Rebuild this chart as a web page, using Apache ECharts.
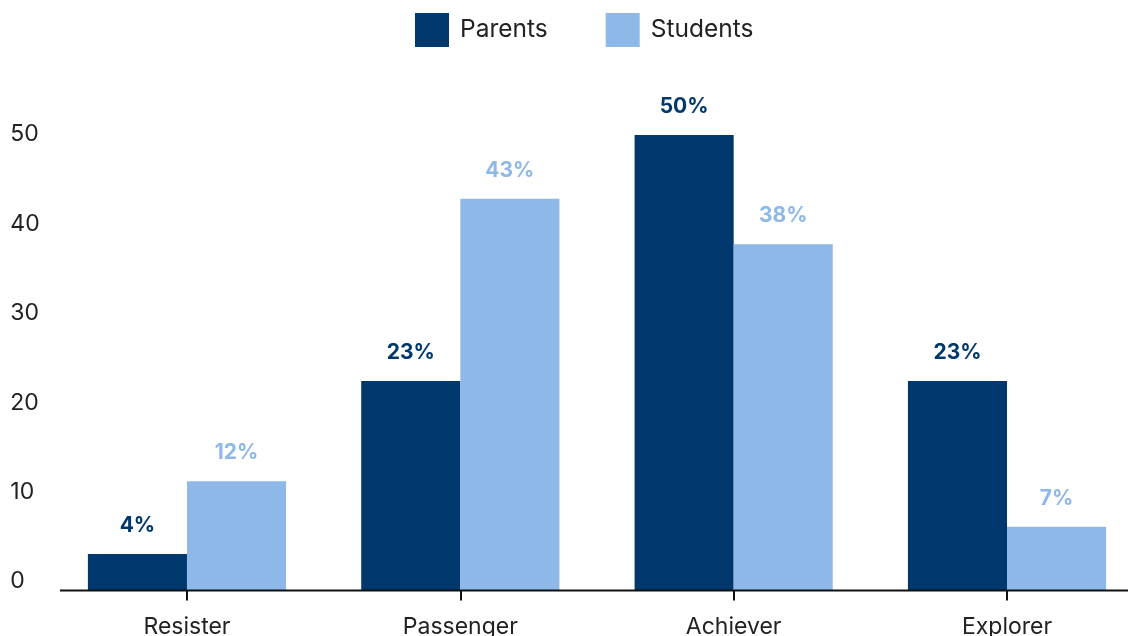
<!DOCTYPE html>
<html>
<head>
<meta charset="utf-8">
<style>
  html, body { margin: 0; padding: 0; background: #ffffff; }
  #chart { width: 1128px; height: 636px; }
</style>
<script src="https://cdn.jsdelivr.net/npm/echarts@6/dist/echarts.min.js"></script>
</head>
<body>
<div id="chart"></div>
<script>
// Share of respondents per profile, in percent
const categories = ['Resister', 'Passenger', 'Achiever', 'Explorer'];
const parents = [4, 23, 50, 23];
const students = [12, 43, 38, 7];
const yTicks = [0, 10, 20, 30, 40, 50];

const DARK = '#00386e';
const LIGHT = '#8db8e8';
const FONT = 'Inter, "Noto Sans", sans-serif';

const chart = echarts.init(document.getElementById('chart'), null, { renderer: 'canvas' });

function valueLabel(color) {
  return {
    show: true,
    position: 'top',
    distance: 18,
    color: color,
    fontFamily: FONT,
    fontWeight: 'bold',
    fontSize: 21,
    formatter: p => p.value + '%'
  };
}

const yMin = yTicks[0];
const yMax = yTicks[yTicks.length - 1];

chart.setOption({
  animation: false,
  textStyle: { fontFamily: FONT },
  legend: {
    top: 8,
    left: 410,
    itemWidth: 34,
    itemHeight: 34,
    itemGap: 58,
    icon: 'rect',
    textStyle: { fontFamily: FONT, fontSize: 24.5, color: '#222222', padding: [2, 0, 0, 6] },
    data: ['Parents', 'Students']
  },
  grid: [
    // plotting area for the bars
    {
      left: 50.3,
      right: -15.7,
      top: 135,
      bottom: 45.5,
      outerBoundsMode: 'none',
      containLabel: false
    },
    // tick-label scale, set slightly tighter than the bar scale
    {
      left: 50.3,
      right: -15.7,
      top: 134.5,
      bottom: 54.5,
      outerBoundsMode: 'none',
      containLabel: false
    }
  ],
  xAxis: [
    {
      type: 'category',
      gridIndex: 0,
      data: categories,
      axisLine: { show: false },
      axisTick: {
        show: true,
        alignWithLabel: true,
        length: 10,
        lineStyle: { color: '#111111', width: 2 }
      },
      axisLabel: {
        margin: 25,
        color: '#222222',
        fontFamily: FONT,
        fontSize: 23
      }
    },
    {
      type: 'category',
      gridIndex: 1,
      data: categories,
      show: false
    }
  ],
  yAxis: [
    {
      type: 'value',
      gridIndex: 0,
      min: yMin,
      max: yMax,
      interval: 10,
      splitLine: { show: false },
      axisLine: { show: false },
      axisTick: { show: false },
      axisLabel: { show: false }
    },
    {
      type: 'value',
      gridIndex: 1,
      min: yMin,
      max: yMax,
      interval: 10,
      splitLine: { show: false },
      axisLine: { show: false },
      axisTick: { show: false },
      axisLabel: {
        align: 'left',
        margin: 40,
        color: '#222222',
        fontFamily: FONT,
        fontSize: 23
      }
    }
  ],
  series: [
    {
      name: 'Parents',
      type: 'bar',
      xAxisIndex: 0,
      yAxisIndex: 0,
      data: parents,
      barGap: '0%',
      barCategoryGap: '27.5%',
      itemStyle: { color: DARK },
      label: valueLabel(DARK)
    },
    {
      name: 'Students',
      type: 'bar',
      xAxisIndex: 0,
      yAxisIndex: 0,
      data: students,
      barGap: '0%',
      barCategoryGap: '27.5%',
      itemStyle: { color: LIGHT },
      label: valueLabel(LIGHT)
    }
  ]
});

// Baseline drawn at the zero value of the y axis, starting just right of the tick labels
const zeroY = chart.convertToPixel({ yAxisIndex: 0 }, 0);
chart.setOption({
  graphic: [{
    type: 'line',
    z: 10,
    shape: { x1: 60, y1: zeroY, x2: 1128, y2: zeroY },
    style: { stroke: '#111111', lineWidth: 2 }
  }]
});
</script>
</body>
</html>
